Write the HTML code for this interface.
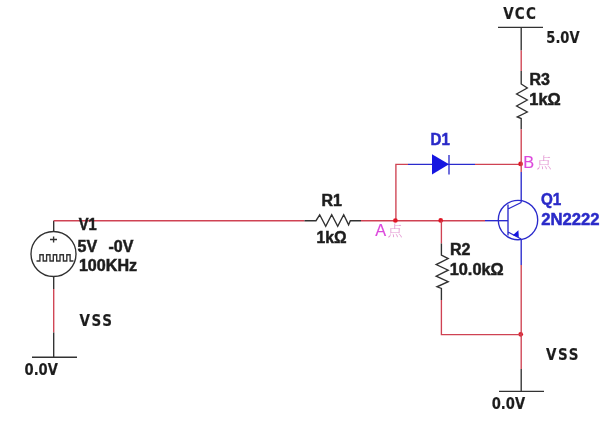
<!DOCTYPE html>
<html lang="zh">
<head>
<meta charset="utf-8">
<title>Circuit</title>
<style>
html,body{margin:0;padding:0;background:#fff;}
body{width:610px;height:425px;overflow:hidden;}
svg{display:block;}
text{font-family:"Liberation Sans","Noto Sans CJK SC",sans-serif;font-weight:bold;font-size:16px;fill:#1e1e1e;stroke:#1e1e1e;stroke-width:0.5px;}
.k{stroke:#303030;stroke-width:1.35;fill:none;}
.r{stroke:#cf4352;stroke-width:1.35;fill:none;}
.b{stroke:#2c2ccc;stroke-width:1.35;fill:none;}
.bl{fill:#1616e0;}
.m{fill:#dc48dc;stroke:#dc48dc;stroke-width:0.15px;font-weight:normal;font-size:16.3px;}
.c{font-family:"Liberation Serif","Noto Serif CJK SC",serif;font-size:15px;font-weight:300;fill:#d050b4;fill-opacity:0.6;stroke:none;}
.t{font-family:"DejaVu Sans Condensed","Liberation Sans",sans-serif;font-size:15px;stroke-width:0.15px;}
</style>
</head>
<body>
<svg width="610" height="425" viewBox="0 0 610 425">
<defs><filter id="soft" x="0" y="0" width="610" height="425" filterUnits="userSpaceOnUse"><feGaussianBlur stdDeviation="0.38"/></filter></defs>
<rect width="610" height="425" fill="#fff"/>
<g filter="url(#soft)">

<!-- V1 source -->
<path class="k" d="M53.7 220.7V231.5M53.7 276.5V289"/>
<circle class="k" cx="53.5" cy="254" r="22.5"/>
<path class="k" d="M36.5 261H39.9V254.7H43.2V261H46.6V254.7H50V261H53.3V254.7H56.7V261H60V254.7H63.4V261H66.8V254.7H70.1V261H73.5" stroke-width="1.2"/>
<path class="k" d="M50 239.5h7M53.6 236.5v6" stroke-width="1.2"/>
<path class="r" d="M53.7 220.7H304.5"/>
<path class="r" d="M53.7 289V332.5"/>
<path class="k" d="M53.7 332.5V357.2M32 357.2H77"/>
<text x="78.8" y="230" style="font-size:16.8px" textLength="18" lengthAdjust="spacingAndGlyphs">V1</text>
<text x="77.5" y="252">5V</text>
<text x="108.5" y="252">-0V</text>
<text x="78.9" y="271.2" textLength="58.2" lengthAdjust="spacingAndGlyphs">100KHz</text>
<text class="t" x="79.5" y="325.5" letter-spacing="1.6">VSS</text>
<text class="t" x="24.5" y="374.7" textLength="33.4" lengthAdjust="spacingAndGlyphs">0.0V</text>

<!-- R1 -->
<path class="k" d="M304.5 220.7H316L319.7 214.8L325.7 226.3L331.7 214.8L337.7 226.3L343.7 214.8L348.6 224.8L350.3 220.7H361"/>
<text x="321.4" y="205.9">R1</text>
<text x="316.6" y="242.8" textLength="30" lengthAdjust="spacingAndGlyphs">1kΩ</text>
<path class="r" d="M361 220.7H485"/>
<path class="b" d="M485 220.7H508"/>
<text class="m" x="375.3" y="235.8">A<tspan class="c" x="387.5" y="235.6">点</tspan></text>

<!-- diode branch -->
<path class="r" d="M395.9 220.7V164.3H408"/>
<path class="b" d="M408 164.3H475"/>
<path class="r" d="M475 164.3H521.2"/>
<path class="bl" d="M432 154.2L449 164.3L432 174.6Z"/>
<path class="b" d="M449 155V174.5"/>
<text x="430.5" y="145" textLength="19.3" lengthAdjust="spacingAndGlyphs" style="fill:#2a2ac8;stroke:#2a2ac8">D1</text>
<circle cx="395.4" cy="220.5" r="2.35" fill="#e01828"/>
<circle cx="440.7" cy="220.4" r="2.35" fill="#e01828"/>
<circle cx="520.6" cy="163.9" r="2.35" fill="#e01828"/>
<circle cx="520.7" cy="334.3" r="2.35" fill="#e01828"/>
<text class="m" x="523.3" y="167.9">B<tspan class="c" x="536.5" y="168">点</tspan></text>

<!-- VCC / R3 -->
<path class="k" d="M498 27.4H543M521.2 27.4V50.5"/>
<path class="r" d="M521.2 50.5V71"/>
<path class="k" d="M521.2 71V84L527.3 88L516.6 94L527.3 100L516.6 106L527.3 112L517.3 117L521.2 118.5V129.2"/>
<path class="r" d="M521.2 129.2V172"/>
<path class="b" d="M521.2 172V202.5"/>
<text class="t" x="503.2" y="19.2" letter-spacing="1.2">VCC</text>
<text class="t" x="546.3" y="43" textLength="33.3" lengthAdjust="spacingAndGlyphs">5.0V</text>
<text x="529.5" y="84.6">R3</text>
<text x="529.3" y="104.5" textLength="31.5" lengthAdjust="spacingAndGlyphs">1kΩ</text>

<!-- Q1 -->
<circle class="b" cx="518" cy="220" r="19.7"/>
<path class="b" d="M508 204.5V235.5M508 209L521.2 202.5M508 232L521.2 239M521.2 239V265"/>
<path class="r" d="M521.2 265V334.6"/>
<path class="bl" d="M512.8 235.2L518.4 230.3L518.8 237.3Z"/>
<text x="541" y="204.5" textLength="20.3" lengthAdjust="spacingAndGlyphs" style="fill:#2a2ac8;stroke:#2a2ac8">Q1</text>
<text x="541.2" y="224.5" textLength="58.3" lengthAdjust="spacingAndGlyphs" style="fill:#2a2ac8;stroke:#2a2ac8">2N2222</text>

<!-- R2 -->
<path class="r" d="M441.4 220.7V243.5"/>
<path class="k" d="M441.4 243.5V255L448.2 258.6L436.2 264.6L448.2 270.2L436.2 276.2L448.2 281.7L437 286.8L441.4 288.4V300"/>
<path class="r" d="M441.4 300V334.6H521.2V369"/>
<path class="k" d="M521.2 369V391.4M499 391.4H544"/>
<text x="450" y="254.6">R2</text>
<text x="449.7" y="274.7" textLength="54" lengthAdjust="spacingAndGlyphs">10.0kΩ</text>
<text class="t" x="546" y="360" letter-spacing="1.6">VSS</text>
<text class="t" x="491.7" y="408.5" textLength="33.4" lengthAdjust="spacingAndGlyphs">0.0V</text>
</g>
</svg>
</body>
</html>
